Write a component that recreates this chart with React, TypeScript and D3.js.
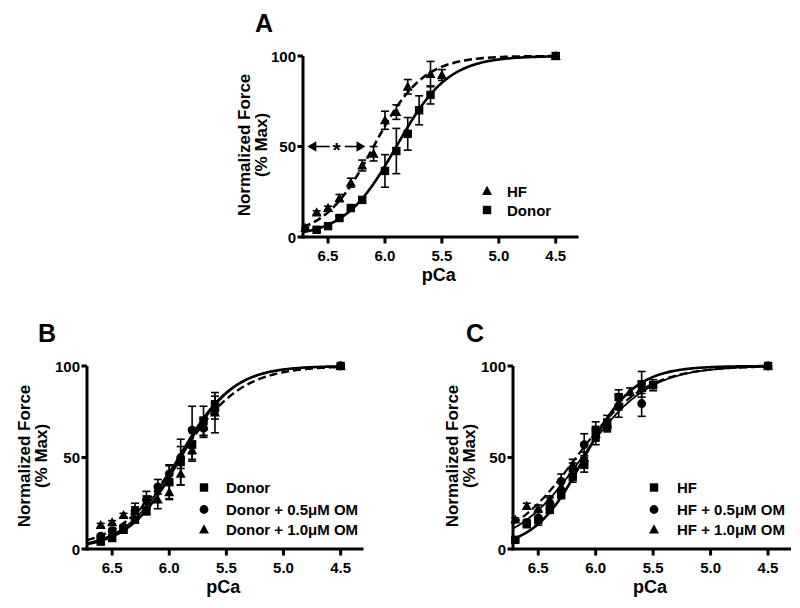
import React from "react";
import * as d3 from "d3";

// ---------------- data ----------------
const xTickValues = [6.5, 6.0, 5.5, 5.0, 4.5];
const yTickValues = [0, 50, 100];
const xDomain = [6.72, 4.3];

const donorPCa = [6.6, 6.5, 6.4, 6.3, 6.2, 6.0, 5.9, 5.8, 5.7, 5.6, 4.5];
const donorForce = [4, 6, 10.5, 16, 20.5, 36.5, 47.5, 57, 70, 78.5, 100];
const donorSem = [1, 1, 1, 1, 1.5, 9, 12.5, 9, 8, 5, 0];

const hfPCa = [6.7, 6.6, 6.5, 6.4, 6.3, 6.2, 6.1, 6.0, 5.9, 5.8, 5.6, 5.5, 4.5];
const hfForce = [5, 13.5, 16, 21.5, 30, 39.5, 46, 64.5, 69, 83, 90, 89.5, 100];
const hfSem = [0.5, 1, 1, 2, 2.5, 3, 4, 5, 4, 4, 7, 3, 0];

const donorOm05PCa = [6.6, 6.5, 6.4, 6.3, 6.2, 6.1, 6.0, 5.9, 5.8, 5.7, 5.6, 4.5];
const donorOm05Force = [7, 10, 12, 21, 27, 34, 41, 50, 65, 66, 76, 100];
const donorOm05Sem = [1, 1, 1, 4, 4.5, 4, 5, 6, 13, 5, 5, 0];

const donorOm10PCa = [6.6, 6.5, 6.4, 6.3, 6.2, 6.1, 6.0, 5.9, 5.8, 5.7, 5.6, 4.5];
const donorOm10Force = [13, 14.5, 18.5, 21, 26, 27, 31, 41, 54, 67, 74.5, 100];
const donorOm10Sem = [1, 1, 1, 2, 3, 5, 4, 6, 5, 5, 11, 0];

const hfOm05PCa = [6.6, 6.5, 6.4, 6.3, 6.2, 6.1, 6.0, 5.9, 5.8, 5.6, 4.5];
const hfOm05Force = [14.5, 17, 25, 37, 44, 57, 61, 67, 78, 79.5, 100];
const hfOm05Sem = [1.5, 4, 3, 4, 3, 6, 4, 3, 6, 7, 0];

const hfOm10PCa = [6.7, 6.6, 6.5, 6.4, 6.3, 6.2, 6.1, 6.0, 5.9, 5.8, 5.7, 5.6, 4.5];
const hfOm10Force = [16, 23.5, 22, 27, 34, 46, 50, 63, 68, 80, 86, 88, 100];
const hfOm10Sem = [1, 1.5, 2, 2, 3, 3, 3, 4, 3, 4, 2, 3, 0];

// Hill fit parameters: [pCa50, nH]
const fitDonor = [5.9, 1.9];
const fitHF = [6.1, 2.0];
const fitDonorOm05 = [5.92, 1.85];
const fitDonorOm10 = [5.91, 1.6];
const fitHfOm05 = [6.12, 1.5];
const fitHfOm10 = [6.17, 1.45];

// annotation in panel A (pCa positions at 50 % force)
const arrowLeft = [6.485, 6.667];
const arrowRight = [6.353, 6.186];
const starPCa = 6.426;

// ---------------- helpers ----------------
const FONT = "'Liberation Sans', Arial, Helvetica, sans-serif";

type Shape = "square" | "circle" | "triangle";

function Marker({ shape, cx, cy }: { shape: Shape; cx: number; cy: number }) {
  if (shape === "square") return <rect x={cx - 4.2} y={cy - 4.2} width={8.4} height={8.4} fill="#000" />;
  if (shape === "circle") return <circle cx={cx} cy={cy} r={4.4} fill="#000" />;
  return <path d={`M${cx},${cy - 5.2} L${cx + 5},${cy + 3.9} L${cx - 5},${cy + 3.9} Z`} fill="#000" />;
}

const hill = (p: number, fit: number[]) => 100 / (1 + Math.pow(10, fit[1] * (p - fit[0])));

type Series = { pca: number[]; force: number[]; sem: number[]; shape: Shape };
type Fit = { params: number[]; dash?: string; width: number };
type Legend = { shape: Shape; label: string };

function Panel(props: {
  left: number; right: number; top: number; bottom: number;
  series: Series[]; fits: Fit[]; legend: Legend[];
  legendMarkerX: number; legendTextX: number; legendY: number[];
  letter: string; letterX: number; letterY: number;
  ylab1X: number; ylab2X: number; ylabY: number;
  annotate?: boolean;
}) {
  const { left, right, top, bottom } = props;
  const x = d3.scaleLinear().domain(xDomain).range([left, right]);
  const y = d3.scaleLinear().domain([0, 100]).range([bottom, top]);
  const grid = d3.range(xDomain[0], 4.5, -0.01).concat([4.5]);
  const line = d3.line<number[]>().x((d) => x(d[0])).y((d) => y(d[1]));
  const fmt = d3.format(".1f");

  return (
    <g fontFamily={FONT} fontWeight="bold">
      <text x={props.letterX} y={props.letterY} fontSize={25}>{props.letter}</text>
      {props.fits.map((f, i) => (
        <path key={"f" + i} d={line(grid.map((p) => [p, hill(p, f.params)])) || ""}
          fill="none" stroke="#000" strokeWidth={f.width} strokeDasharray={f.dash} />
      ))}
      {props.series.map((s, si) =>
        s.pca.map((p, i) => {
          if (!s.sem[i]) return null;
          const y1 = y(s.force[i] + s.sem[i]);
          const y2 = y(s.force[i] - s.sem[i]);
          const cx = x(p);
          return (
            <g key={`e${si}-${i}`} stroke="#000" strokeWidth={1.6}>
              <line x1={cx} x2={cx} y1={y1} y2={y2} />
              <line x1={cx - 4} x2={cx + 4} y1={y1} y2={y1} />
              <line x1={cx - 4} x2={cx + 4} y1={y2} y2={y2} />
            </g>
          );
        })
      )}
      {props.series.map((s, si) =>
        s.pca.map((p, i) => <Marker key={`m${si}-${i}`} shape={s.shape} cx={x(p)} cy={y(s.force[i])} />)
      )}
      <line x1={left} x2={left} y1={bottom + 1.5} y2={top} stroke="#000" strokeWidth={3} />
      <line x1={left - 1.5} x2={right} y1={bottom} y2={bottom} stroke="#000" strokeWidth={3} />
      {yTickValues.map((t) => (
        <g key={"y" + t}>
          <line x1={left - 5.5} x2={left} y1={y(t)} y2={y(t)} stroke="#000" strokeWidth={3} />
          <text x={left - 7} y={y(t) + 5.5} fontSize={15} textAnchor="end">{t}</text>
        </g>
      ))}
      {xTickValues.map((t) => (
        <g key={"x" + t}>
          <line x1={x(t)} x2={x(t)} y1={bottom} y2={bottom + 6.5} stroke="#000" strokeWidth={3} />
          <text x={x(t)} y={bottom + 23.5} fontSize={15} textAnchor="middle">{fmt(t)}</text>
        </g>
      ))}
      <text x={(left + right) / 2 - 2} y={bottom + 44} fontSize={18} textAnchor="middle">pCa</text>
      <text transform={`translate(${props.ylab1X},${props.ylabY}) rotate(-90)`} fontSize={17} textAnchor="middle">Normalized Force</text>
      <text transform={`translate(${props.ylab2X},${props.ylabY}) rotate(-90)`} fontSize={17} textAnchor="middle">(% Max)</text>
      {props.legend.map((l, i) => (
        <g key={"l" + i}>
          <Marker shape={l.shape} cx={props.legendMarkerX} cy={props.legendY[i]} />
          <text x={props.legendTextX} y={props.legendY[i] + 5.5} fontSize={15}>{l.label}</text>
        </g>
      ))}
      {props.annotate && (
        <g stroke="#000" strokeWidth={1.6}>
          <line x1={x(arrowLeft[0])} x2={x(arrowLeft[1]) + 3} y1={y(50)} y2={y(50)} />
          <path d={`M${x(arrowLeft[1])},${y(50)} l6.5,-3.8 l0,7.6 Z`} fill="#000" />
          <line x1={x(arrowRight[0])} x2={x(arrowRight[1]) - 3} y1={y(50)} y2={y(50)} />
          <path d={`M${x(arrowRight[1])},${y(50)} l-6.5,-3.8 l0,7.6 Z`} fill="#000" />
          <text x={x(starPCa)} y={y(50) + 10} fontSize={21} textAnchor="middle" stroke="none">*</text>
        </g>
      )}
    </g>
  );
}

export default function App() {
  return (
    <svg width={800} height={608} style={{ position: "absolute", left: 0, top: 0, background: "#fff" }}>
      <rect width={800} height={608} fill="#fff" />
      <Panel
        left={303} right={578.5} top={56} bottom={237}
        series={[
          { pca: donorPCa, force: donorForce, sem: donorSem, shape: "square" },
          { pca: hfPCa, force: hfForce, sem: hfSem, shape: "triangle" },
        ]}
        fits={[
          { params: fitDonor, width: 2.6 },
          { params: fitHF, width: 2.6, dash: "8,4" },
        ]}
        legend={[{ shape: "triangle", label: "HF" }, { shape: "square", label: "Donor" }]}
        legendMarkerX={487} legendTextX={507} legendY={[191, 210]}
        letter="A" letterX={255} letterY={32}
        ylab1X={250} ylab2X={267} ylabY={145}
        annotate
      />
      <Panel
        left={87} right={363.5} top={366} bottom={549}
        series={[
          { pca: donorPCa, force: donorForce, sem: donorSem, shape: "square" },
          { pca: donorOm05PCa, force: donorOm05Force, sem: donorOm05Sem, shape: "circle" },
          { pca: donorOm10PCa, force: donorOm10Force, sem: donorOm10Sem, shape: "triangle" },
        ]}
        fits={[
          { params: fitDonor, width: 2.6 },
          { params: fitDonorOm05, width: 1.8 },
          { params: fitDonorOm10, width: 2.4, dash: "8,4" },
        ]}
        legend={[
          { shape: "square", label: "Donor" },
          { shape: "circle", label: "Donor + 0.5μM OM" },
          { shape: "triangle", label: "Donor + 1.0μM OM" },
        ]}
        legendMarkerX={204} legendTextX={226} legendY={[487.5, 509.5, 529.5]}
        letter="B" letterX={38} letterY={342}
        ylab1X={30} ylab2X={46.5} ylabY={456}
      />
      <Panel
        left={513} right={791} top={366} bottom={549}
        series={[
          { pca: hfPCa, force: hfForce, sem: hfSem, shape: "square" },
          { pca: hfOm05PCa, force: hfOm05Force, sem: hfOm05Sem, shape: "circle" },
          { pca: hfOm10PCa, force: hfOm10Force, sem: hfOm10Sem, shape: "triangle" },
        ]}
        fits={[
          { params: fitHF, width: 2.6 },
          { params: fitHfOm05, width: 1.8 },
          { params: fitHfOm10, width: 2.2, dash: "8,4" },
        ]}
        legend={[
          { shape: "square", label: "HF" },
          { shape: "circle", label: "HF + 0.5μM OM" },
          { shape: "triangle", label: "HF + 1.0μM OM" },
        ]}
        legendMarkerX={654} legendTextX={677} legendY={[487.5, 509.5, 529.5]}
        letter="C" letterX={466} letterY={342}
        ylab1X={458} ylab2X={475} ylabY={456}
      />
    </svg>
  );
}
